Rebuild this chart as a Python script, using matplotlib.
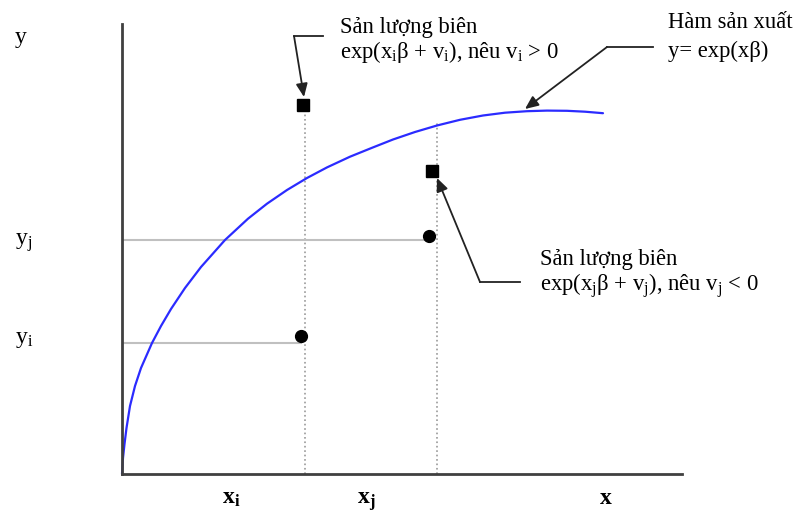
import matplotlib
matplotlib.use("Agg")
import matplotlib.pyplot as plt

plt.rcParams["font.family"] = ["Liberation Serif", "DejaVu Serif"]
plt.rcParams["mathtext.default"] = "regular"

# frontier curve y = exp(x*beta), sampled points
curve_x = [0, 1, 2.5, 4.5, 8, 13, 19, 30, 39, 49, 63, 79, 103, 126, 145, 165,
           185, 205, 228, 250, 271, 293, 315, 338, 361, 383, 405, 425, 445, 463, 481]
curve_y = [0, 16, 30, 46, 68, 88, 106, 131, 148, 165, 186, 207, 234, 255.3, 270.3,
           284, 296, 306.6, 317.3, 326.2, 334.5, 342, 348.5, 354.2, 358.5, 361.3,
           362.8, 363.4, 363.2, 362.3, 360.8]

# observed firms i and j
x_i, x_j = 183, 315
obs_x = [179, 307]
obs_y = [138, 238]          # actual output y_i, y_j
front_x = [180.5, 309.5]
front_y = [369, 303.5]      # frontier output exp(x*beta + v)
y_i, y_j = 131, 234

fig = plt.figure(figsize=(8.01, 5.12), dpi=100)
ax = fig.add_axes([122 / 801, 38 / 512, 560 / 801, 450 / 512])
ax.set_xlim(0, 560)
ax.set_ylim(0, 450)
for s in ["top", "right"]:
    ax.spines[s].set_visible(False)
for s in ["left", "bottom"]:
    ax.spines[s].set_color("#404040")
    ax.spines[s].set_linewidth(2)
    ax.spines[s].set_zorder(5)
ax.set_xticks([])
ax.set_yticks([])

# guide lines
ax.plot([x_i, x_i], [0, front_y[0] - 5], ls=":", color="#999999", lw=1.2)
ax.plot([x_j, x_j], [0, 351], ls=":", color="#999999", lw=1.2)
ax.plot([-2, obs_x[0]], [y_i, y_i], color="#c0c0c0", lw=1.5)
ax.plot([0, obs_x[1] - 4], [y_j, y_j], color="#c0c0c0", lw=1.5)

ax.plot(curve_x, curve_y, color="#2b2bff", lw=1.6, solid_capstyle="round",
        solid_joinstyle="round", clip_on=False)

ax.plot(obs_x, obs_y, "o", color="black", ms=8.5, clip_on=False)
ax.plot(front_x, front_y, "s", color="black", ms=9, clip_on=False)

# axis labels
big = 17
ax.text(-107, 431, "y", fontsize=big, va="baseline", ha="left")
ax.text(-107, 229, "y$_j$", fontsize=big, va="baseline", ha="left")
ax.text(-107, 131, "y$_i$", fontsize=big, va="baseline", ha="left")
ax.text(100, -30, "x$_i$", fontsize=big, fontweight="bold", va="baseline", ha="left")
ax.text(235, -30, "x$_j$", fontsize=big, fontweight="bold", va="baseline", ha="left")
ax.text(478, -30, "x", fontsize=big, fontweight="bold", va="baseline", ha="left")

# annotations
small = 16.3
ax.text(218, 441, "Sản lượng biên", fontsize=small, va="baseline")
ax.text(218, 416, "exp(x$_i$β + v$_i$), nêu v$_i$ > 0", fontsize=small, va="baseline")
ax.text(546, 446, "Hàm sản xuất", fontsize=small, va="baseline", clip_on=False)
ax.text(546, 417, "y= exp(xβ)", fontsize=small, va="baseline")
ax.text(418, 209, "Sản lượng biên", fontsize=small, va="baseline")
ax.text(418, 183, "exp(x$_j$β + v$_j$), nêu v$_j$ < 0", fontsize=small, va="baseline")

leaders = [
    ((201, 438), (172, 438), (182, 377)),
    ((531, 427), (485, 427), (403, 365)),
    ((398, 192), (358, 192), (315, 296)),
]
for start, bend, tip in leaders:
    ax.plot([start[0], bend[0]], [start[1], bend[1]], color="#222222", lw=1.3,
            clip_on=False)
    ax.annotate("", xy=tip, xytext=bend, annotation_clip=False,
                arrowprops=dict(arrowstyle="-|>,head_length=0.8,head_width=0.35",
                                color="#222222", lw=1.3, shrinkA=0, shrinkB=0))

fig.savefig("out.png", dpi=100)
